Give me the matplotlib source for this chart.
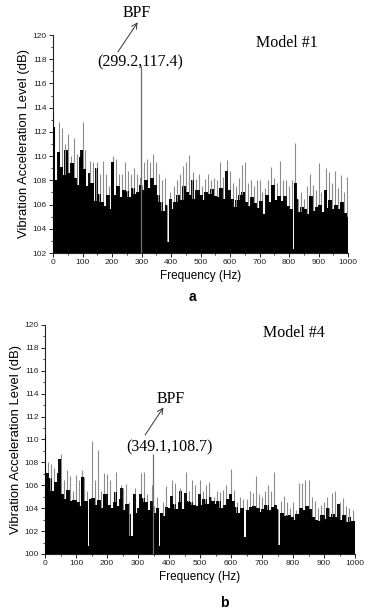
import numpy as np
import matplotlib
matplotlib.use("Agg")
import matplotlib.pyplot as plt
from matplotlib.ticker import MultipleLocator

# ---------------- data (dB, one value every 5 Hz, 0..1000 Hz) ----------------
freq_step = 5
freqs = np.arange(0, 1001, freq_step)

model1_levels = [
    113.6, 112.4, 108.0, 110.3, 112.8, 109.1, 112.3, 108.4, 111.0, 110.5,
    111.8, 108.6, 110.0, 109.4, 111.5, 108.2, 110.2, 107.6, 109.9, 110.5,
    112.8, 108.9, 110.5, 107.5, 108.6, 109.6, 107.8, 109.5, 106.3, 109.0,
    109.5, 106.9, 108.5, 106.2, 109.6, 105.9, 108.5, 106.8, 107.5, 105.6,
    109.5, 110.0, 106.8, 109.8, 107.5, 108.5, 106.6, 108.5, 107.2, 109.5,
    107.1, 108.8, 106.6, 108.5, 107.4, 109.0, 106.9, 108.5, 107.0, 108.3,
    107.6, 107.2, 109.5, 108.0, 109.8, 107.4, 109.5, 108.2, 110.2, 107.6,
    109.5, 106.8, 108.5, 106.2, 108.0, 105.5, 108.2, 106.0, 102.9, 107.0,
    106.5, 105.6, 107.5, 106.2, 108.0, 106.8, 108.5, 106.4, 109.2, 107.5,
    109.5, 107.0, 110.1, 106.8, 108.0, 108.7, 106.5, 108.1, 107.2, 108.5,
    106.8, 107.5, 106.4, 108.1, 107.0, 108.5, 106.9, 108.0, 107.3, 108.2,
    106.7, 108.0, 106.6, 109.5, 107.4, 108.3, 106.5, 108.8, 109.7, 107.2,
    108.8, 106.5, 107.8, 105.8, 107.5, 106.4, 108.2, 106.8, 109.3, 107.0,
    109.5, 106.2, 107.8, 105.9, 108.0, 106.6, 107.5, 106.1, 108.0, 105.7,
    108.0, 106.3, 107.0, 105.2, 107.4, 106.8, 108.0, 106.2, 109.1, 107.6,
    108.2, 106.4, 107.8, 106.7, 109.6, 106.3, 108.0, 106.7, 108.0, 105.9,
    107.5, 105.6, 108.0, 102.3, 111.1, 107.8, 106.5, 105.4, 107.0, 105.8,
    106.5, 105.6, 107.5, 105.2, 108.5, 106.7, 107.6, 105.5, 107.2, 105.8,
    109.4, 106.0, 107.0, 105.4, 107.2, 109.0, 105.7, 108.7, 106.4, 107.8,
    105.6, 108.8, 106.0, 107.4, 105.6, 108.4, 106.2, 107.0, 105.3, 108.3,
    105.0,
]

model4_levels = [
    110.4, 107.1, 108.0, 106.6, 107.9, 105.5, 107.5, 106.3, 107.1, 108.3,
    108.7, 105.2, 106.5, 104.8, 107.3, 105.6, 106.8, 104.6, 105.5, 104.7,
    106.9, 104.5, 106.5, 104.2, 107.3, 106.7, 104.6, 105.5, 100.7, 104.8,
    109.9, 104.9, 106.5, 104.3, 109.1, 104.7, 105.5, 104.0, 107.1, 105.2,
    107.0, 104.3, 106.5, 104.0, 104.5, 105.4, 107.2, 104.2, 104.8, 106.0,
    105.8, 103.8, 106.1, 104.4, 104.5, 103.5, 101.6, 105.2, 105.8, 103.6,
    104.0, 105.2, 107.1, 104.9, 107.2, 104.5, 105.2, 103.8, 104.6, 106.0,
    104.2, 103.6, 105.0, 104.0, 100.7, 103.6, 104.5, 103.3, 105.9, 104.1,
    104.0, 105.1, 106.5, 104.4, 106.2, 103.9, 104.5, 105.8, 105.5, 103.9,
    105.3, 107.2, 104.6, 105.5, 104.5, 106.5, 104.3, 106.0, 104.2, 105.2,
    106.5, 104.3, 105.5, 104.8, 106.0, 104.4, 106.3, 105.0, 104.6, 105.0,
    104.4, 105.5, 104.6, 105.4, 104.0, 105.6, 104.3, 106.0, 104.8, 105.2,
    107.4, 104.6, 105.6, 104.1, 104.5, 103.6, 105.0, 104.0, 104.8, 101.5,
    104.8, 103.8, 105.5, 104.1, 105.3, 104.2, 106.8, 104.0, 105.2, 103.7,
    105.0, 103.9, 105.5, 104.3, 106.0, 103.8, 105.5, 104.1, 107.2, 104.3,
    103.9, 100.8, 104.6, 103.6, 105.1, 103.3, 104.5, 103.4, 104.0, 103.2,
    104.5, 103.0, 103.8, 103.5, 106.2, 104.0, 106.2, 103.8, 106.5, 104.2,
    106.5, 103.9, 105.0, 103.2, 104.6, 103.0, 104.0, 102.9, 104.3, 103.4,
    104.5, 103.1, 105.0, 104.0, 103.2, 105.3, 103.5, 105.5, 103.2, 104.4,
    104.5, 103.0, 104.9, 103.4, 104.2, 102.8, 104.0, 103.2, 102.9, 103.8,
    102.9,
]

bpf1_freq, bpf1_level = 299.2, 117.4
bpf4_freq, bpf4_level = 349.1, 108.7

x_ticks = [0, 100, 200, 300, 400, 500, 600, 700, 800, 900, 1000]

# ---------------- drawing ----------------
SANS = ["Liberation Sans", "DejaVu Sans"]
SERIF = ["Liberation Serif", "DejaVu Serif"]

fig = plt.figure(figsize=(3.70, 6.14), dpi=100)
W, H = 370.0, 614.0


def axes_px(left, right, top, bottom):
    return fig.add_axes([left / W, 1 - bottom / H, (right - left) / W, (bottom - top) / H])


def draw_spectrum(ax, levels, ymin, ymax, bpf_f, bpf_l):
    v = np.asarray(levels, dtype=float)
    prev_v = np.concatenate([[v[0]], v[:-1]])
    next_v = np.concatenate([v[1:], [v[-1]]])
    lo = np.minimum(v, np.minimum(prev_v, next_v))
    med = np.minimum(v, np.median(np.vstack([prev_v, v, next_v]), axis=0))
    solid = np.where(v - lo > 2.8, med, lo)
    # thin grey tops (single spectral lines)
    ax.vlines(freqs, ymin, v, colors="#8c8c8c", linewidth=0.8, zorder=2)
    # dense black part with jagged top
    ax.bar(freqs, med - ymin, bottom=ymin, width=freq_step * 0.8, color="#111111",
           linewidth=0, zorder=3)
    ax.bar(freqs, solid - ymin, bottom=ymin, width=freq_step, color="black",
           linewidth=0, zorder=4)
    ax.vlines([bpf_f], ymin, [bpf_l], colors="#6f6f6f", linewidth=0.9, zorder=5)
    ax.set_xlim(0, 1000)
    ax.set_ylim(ymin, ymax)
    ax.set_xticks(x_ticks)
    ax.xaxis.set_minor_locator(MultipleLocator(50))
    ax.yaxis.set_major_locator(MultipleLocator(2))
    ax.yaxis.set_minor_locator(MultipleLocator(1))
    for s in ("top", "right"):
        ax.spines[s].set_visible(False)
    for s in ("left", "bottom"):
        ax.spines[s].set_linewidth(0.8)
        ax.spines[s].set_color("#222222")
    ax.tick_params(axis="both", which="major", direction="out", length=3,
                   width=0.7, labelsize=6, pad=1.5, colors="#222222")
    ax.tick_params(axis="both", which="minor", direction="out", length=1.6,
                   width=0.6, colors="#222222")
    for lab in ax.get_xticklabels() + ax.get_yticklabels():
        lab.set_family(SANS)
    ax.set_xlabel("Frequency (Hz)", fontsize=8.5, family=SANS, labelpad=3)
    ax.set_ylabel("Vibration Acceleration Level (dB)", fontsize=9.4, family=SANS,
                  labelpad=2)


# panel a
ax1 = axes_px(53, 348, 35, 253)
draw_spectrum(ax1, model1_levels, 102, 120, bpf1_freq, bpf1_level)
ax1.text(285, 121.8, "BPF", family=SERIF, fontsize=11.5, ha="center", va="center",
         clip_on=False)
ax1.annotate("", xy=(287, 121.05), xytext=(220, 118.6), annotation_clip=False,
             arrowprops=dict(arrowstyle="->", lw=0.7, color="#333333",
                             shrinkA=0, shrinkB=0))
ax1.text(295, 117.75, "(299.2,117.4)", family=SERIF, fontsize=11.5, ha="center",
         va="center")
ax1.text(793, 119.3, "Model #1", family=SERIF, fontsize=11.5, ha="center", va="center")
fig.text(192 / W, 1 - 297 / H, "a", fontsize=10, fontweight="bold", family=SANS,
         ha="center", va="center")

# panel b
ax2 = axes_px(45, 355, 325, 554)
draw_spectrum(ax2, model4_levels, 100, 120, bpf4_freq, bpf4_level)
ax2.text(406, 113.5, "BPF", family=SERIF, fontsize=11.5, ha="center", va="center")
ax2.annotate("", xy=(382, 112.8), xytext=(323, 110.4),
             arrowprops=dict(arrowstyle="->", lw=0.7, color="#333333",
                             shrinkA=0, shrinkB=0))
ax2.text(400, 109.3, "(349.1,108.7)", family=SERIF, fontsize=11.5, ha="center",
         va="center")
ax2.text(803, 119.3, "Model #4", family=SERIF, fontsize=11.5, ha="center", va="center")
fig.text(224 / W, 1 - 603 / H, "b", fontsize=10, fontweight="bold", family=SANS,
         ha="center", va="center")

fig.savefig("out.png", dpi=100, facecolor="white")
